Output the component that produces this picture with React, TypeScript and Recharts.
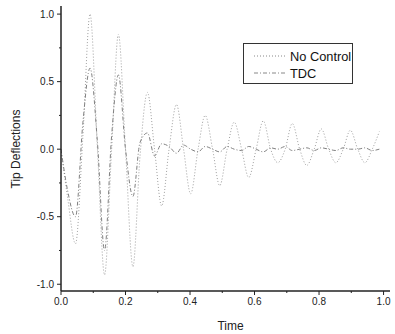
import React from 'react';
import { LineChart, Line, XAxis, YAxis, Legend } from 'recharts';

const times = [0, 0.02, 0.045, 0.068, 0.09, 0.113, 0.135, 0.157, 0.178, 0.2, 0.223, 0.245, 0.268, 0.29, 0.312, 0.335, 0.358, 0.38, 0.402, 0.425, 0.447, 0.47, 0.492, 0.515, 0.537, 0.56, 0.582, 0.605, 0.627, 0.65, 0.672, 0.695, 0.717, 0.74, 0.762, 0.785, 0.807, 0.83, 0.852, 0.875, 0.897, 0.92, 0.942, 0.965, 0.987];
const noControl = [0, -0.35, -0.7, 0.1, 1.0, 0.0, -0.93, 0.0, 0.85, 0.0, -0.87, -0.05, 0.42, 0.0, -0.42, 0.0, 0.33, 0.0, -0.33, 0.0, 0.25, 0.0, -0.27, 0.0, 0.2, 0.0, -0.21, 0.0, 0.21, 0.0, -0.1, 0.0, 0.19, 0.0, -0.12, 0.0, 0.15, 0.0, -0.1, 0.0, 0.14, 0.0, -0.1, 0.0, 0.13];
const tdc = [0, -0.3, -0.5, 0.2, 0.6, 0.05, -0.75, 0.1, 0.55, 0.0, -0.35, 0.05, 0.12, -0.05, 0.04, 0.02, -0.03, 0.03, 0.0, -0.02, 0.02, 0.0, -0.02, 0.02, 0.0, -0.01, 0.02, 0.0, -0.02, 0.01, 0.0, 0.02, -0.01, 0.0, 0.01, -0.01, 0.01, 0.0, -0.01, 0.01, 0.0, 0.0, 0.01, -0.01, 0.0];
const yTicks = [-1, -0.75, -0.5, -0.25, 0, 0.25, 0.5, 0.75, 1];
const yLabels = ['-1.0', '', '-0.5', '', '0.0', '', '0.5', '', '1.0'];
const xTicks = [0, 0.1, 0.2, 0.3, 0.4, 0.5, 0.6, 0.7, 0.8, 0.9, 1.0];
const xLabels = ['0.0', '', '0.2', '', '0.4', '', '0.6', '', '0.8', '', '1.0'];
const seriesNames = ['No Control', 'TDC'];

const data = times.map((t, i) => ({ t, nc: noControl[i], tdc: tdc[i] }));

const FONT = '"Liberation Sans", Arial, sans-serif';

const YTick = (props: any) => {
  const { x, y, index } = props;
  const label = yLabels[index];
  const major = label !== '';
  return (
    <g>
      <line x1={x} x2={x - (major ? 4 : 2)} y1={y} y2={y} stroke="#222" strokeWidth={1} />
      {major && (
        <text x={x - 7} y={y} dy={3.5} textAnchor="end" fontSize={10} fontFamily={FONT} fill="#222">
          {label}
        </text>
      )}
    </g>
  );
};

const XTick = (props: any) => {
  const { x, y, index } = props;
  const label = xLabels[index];
  const major = label !== '';
  return (
    <g>
      <line x1={x} x2={x} y1={y} y2={y + (major ? 4 : 2)} stroke="#222" strokeWidth={1} />
      {major && (
        <text x={x} y={y + 14} textAnchor="middle" fontSize={10} fontFamily={FONT} fill="#222">
          {label}
        </text>
      )}
    </g>
  );
};

const LegendBox = () => (
  <div
    style={{
      width: 110,
      height: 41,
      border: '1px solid #333',
      boxSizing: 'border-box',
      background: '#fff',
      fontFamily: FONT,
      fontSize: 12.8,
      color: '#111',
      position: 'relative',
    }}
  >
    {seriesNames.map((n, i) => (
      <div key={n} style={{ position: 'absolute', left: 10, top: 4 + i * 17, height: 16, display: 'flex', alignItems: 'center' }}>
        <svg width={32} height={6} style={{ marginRight: 4 }}>
          <line x1={0} x2={32} y1={3} y2={3} stroke="#888" strokeWidth={1} strokeDasharray={i === 0 ? '1 2' : '4 2 1 2'} />
        </svg>
        <span>{n}</span>
      </div>
    ))}
  </div>
);

export default function App() {
  return (
    <div style={{ position: 'absolute', left: 0, top: 0, background: '#fff' }}>
      <LineChart width={395} height={334} data={data} margin={{ top: 6, right: 5, bottom: 0, left: 0 }}>
        <XAxis
          dataKey="t"
          type="number"
          domain={[0, 1.02]}
          ticks={xTicks}
          interval={0}
          tick={<XTick />}
          tickLine={false}
          tickSize={0}
          tickMargin={0}
          height={43}
          axisLine={{ stroke: '#222', strokeWidth: 1.5 }}
          allowDataOverflow
          label={{ value: 'Time', position: 'insideBottom', offset: 4, dx: 5, fontSize: 12, fontFamily: FONT, fill: '#222' }}
        />
        <YAxis
          type="number"
          domain={[-1.05, 1.06]}
          ticks={yTicks}
          interval={0}
          tick={<YTick />}
          tickLine={false}
          tickSize={0}
          tickMargin={0}
          width={61}
          axisLine={{ stroke: '#222', strokeWidth: 1.5 }}
          allowDataOverflow
          label={{ value: 'Tip Deflections', angle: -90, position: 'insideLeft', offset: 16, dy: 40, fontSize: 12, fontFamily: FONT, fill: '#222' }}
        />
        <Legend
          content={<LegendBox />}
          layout="horizontal"
          verticalAlign="middle"
          align="center"
          wrapperStyle={{ position: 'absolute', left: 243, top: 43, width: 110, height: 41 }}
        />
        <Line
          type="monotone"
          dataKey="nc"
          name="No Control"
          stroke="#a0a0a0"
          strokeWidth={1}
          strokeDasharray="1 2"
          dot={false}
          isAnimationActive={false}
        />
        <Line
          type="monotone"
          dataKey="tdc"
          name="TDC"
          stroke="#808080"
          strokeWidth={1}
          strokeDasharray="4 2 1 2"
          dot={false}
          isAnimationActive={false}
        />
      </LineChart>
    </div>
  );
}
